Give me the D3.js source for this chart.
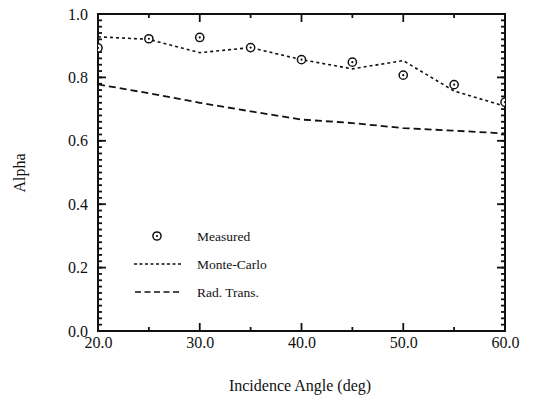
<!DOCTYPE html>
<html>
<head>
<meta charset="utf-8">
<script src="https://cdn.jsdelivr.net/npm/d3@7"></script>
<style>
  html, body { margin: 0; padding: 0; background: #fff; }
  svg { display: block; }
</style>
</head>
<body>
<svg id="chart" width="538" height="408"></svg>
<script>
// Absorptance vs. incidence angle
const angles       = [20, 25, 30, 35, 40, 45, 50, 55, 60];
const measured     = [0.893, 0.922, 0.926, 0.894, 0.856, 0.848, 0.807, 0.777, 0.722];
const monteCarlo   = [0.928, 0.920, 0.878, 0.894, 0.856, 0.827, 0.853, 0.757, 0.709];
const radTrans     = [0.778, 0.750, 0.720, 0.693, 0.667, 0.656, 0.640, 0.632, 0.623];
const xTicks       = [20, 30, 40, 50, 60];
const xMinorTicks  = [25, 35, 45, 55];
const yTicks       = [0, 0.2, 0.4, 0.6, 0.8, 1.0];
const legendLabels = ["Measured", "Monte-Carlo", "Rad. Trans."];

const svg = d3.select("#chart");
const L = 98, R = 505, T = 14, B = 331;
const FONT = "Liberation Serif, DejaVu Serif, serif";
const INK = "#111";

const x = d3.scaleLinear().domain([20, 60]).range([L, R]);
const y = d3.scaleLinear().domain([0, 1]).range([B, T]);

const yMinor = d3.range(0, 1.0001, 0.02).map(v => +v.toFixed(2));

svg.append("defs").append("clipPath").attr("id", "plotClip")
  .append("rect").attr("x", L).attr("y", T).attr("width", R - L).attr("height", B - T);

// tick labels from d3 axes
function styleLabels(g) {
  g.select(".domain").remove();
  g.selectAll(".tick line").remove();
  g.selectAll(".tick text").attr("fill", INK)
    .style("font-family", FONT).style("font-size", "16px");
}
svg.append("g").attr("transform", `translate(0,${B})`)
  .call(d3.axisBottom(x).tickValues(xTicks).tickSize(0).tickPadding(6).tickFormat(d3.format(".1f")))
  .call(styleLabels);
svg.append("g").attr("transform", `translate(${L},0)`)
  .call(d3.axisLeft(y).tickValues(yTicks).tickSize(0).tickPadding(10).tickFormat(d3.format(".1f")))
  .call(styleLabels);

// inward tick marks on all four sides
const ticks = svg.append("g").attr("stroke", INK).attr("stroke-width", 1.8);
function xTickMarks(vals, len) {
  ticks.selectAll(null).data(vals).join("line")
    .attr("x1", d => x(d)).attr("x2", d => x(d)).attr("y1", B).attr("y2", B - len);
  ticks.selectAll(null).data(vals).join("line")
    .attr("x1", d => x(d)).attr("x2", d => x(d)).attr("y1", T).attr("y2", T + len);
}
function yTickMarks(vals, len) {
  ticks.selectAll(null).data(vals).join("line")
    .attr("y1", d => y(d)).attr("y2", d => y(d)).attr("x1", L).attr("x2", L + len);
  ticks.selectAll(null).data(vals).join("line")
    .attr("y1", d => y(d)).attr("y2", d => y(d)).attr("x1", R).attr("x2", R - len);
}
xTickMarks(xTicks, 8);
xTickMarks(xMinorTicks, 4);
yTickMarks(yTicks, 8);
yTickMarks(yMinor, 4);

// frame
svg.append("rect").attr("x", L).attr("y", T).attr("width", R - L).attr("height", B - T)
  .attr("fill", "none").attr("stroke", INK).attr("stroke-width", 2);

const plot = svg.append("g").attr("clip-path", "url(#plotClip)");
const line = d3.line().x((d, i) => x(angles[i])).y(d => y(d));

plot.append("path").datum(monteCarlo).attr("d", line)
  .attr("fill", "none").attr("stroke", INK).attr("stroke-width", 1.6)
  .attr("stroke-dasharray", "3,3");
plot.append("path").datum(radTrans).attr("d", line)
  .attr("fill", "none").attr("stroke", INK).attr("stroke-width", 1.8)
  .attr("stroke-dasharray", "7,4");

function marker(g, cx, cy) {
  g.append("circle").attr("cx", cx).attr("cy", cy).attr("r", 4.1)
    .attr("fill", "#fff").attr("stroke", INK).attr("stroke-width", 1.5);
  g.append("circle").attr("cx", cx).attr("cy", cy).attr("r", 1.1).attr("fill", INK);
}
measured.forEach((v, i) => marker(plot, x(angles[i]), y(v)));

// legend
const leg = svg.append("g");
marker(leg, 157, 236);
leg.append("line").attr("x1", 134).attr("x2", 183).attr("y1", 264).attr("y2", 264)
  .attr("stroke", INK).attr("stroke-width", 1.3).attr("stroke-dasharray", "3,2.5");
leg.append("line").attr("x1", 135).attr("x2", 181).attr("y1", 292).attr("y2", 292)
  .attr("stroke", INK).attr("stroke-width", 1.5).attr("stroke-dasharray", "6,3.5");
[241, 269, 297].forEach((yy, i) => {
  leg.append("text").attr("x", 197).attr("y", yy).attr("fill", INK)
    .style("font-family", FONT).style("font-size", "13.5px").text(legendLabels[i]);
});

// axis titles
svg.append("text").attr("x", 300).attr("y", 391).attr("text-anchor", "middle").attr("fill", INK)
  .style("font-family", FONT).style("font-size", "16px").text("Incidence Angle (deg)");
svg.append("text").attr("transform", "translate(25,173) rotate(-90)").attr("text-anchor", "middle")
  .attr("fill", INK).style("font-family", FONT).style("font-size", "16px").text("Alpha");
</script>
</body>
</html>
